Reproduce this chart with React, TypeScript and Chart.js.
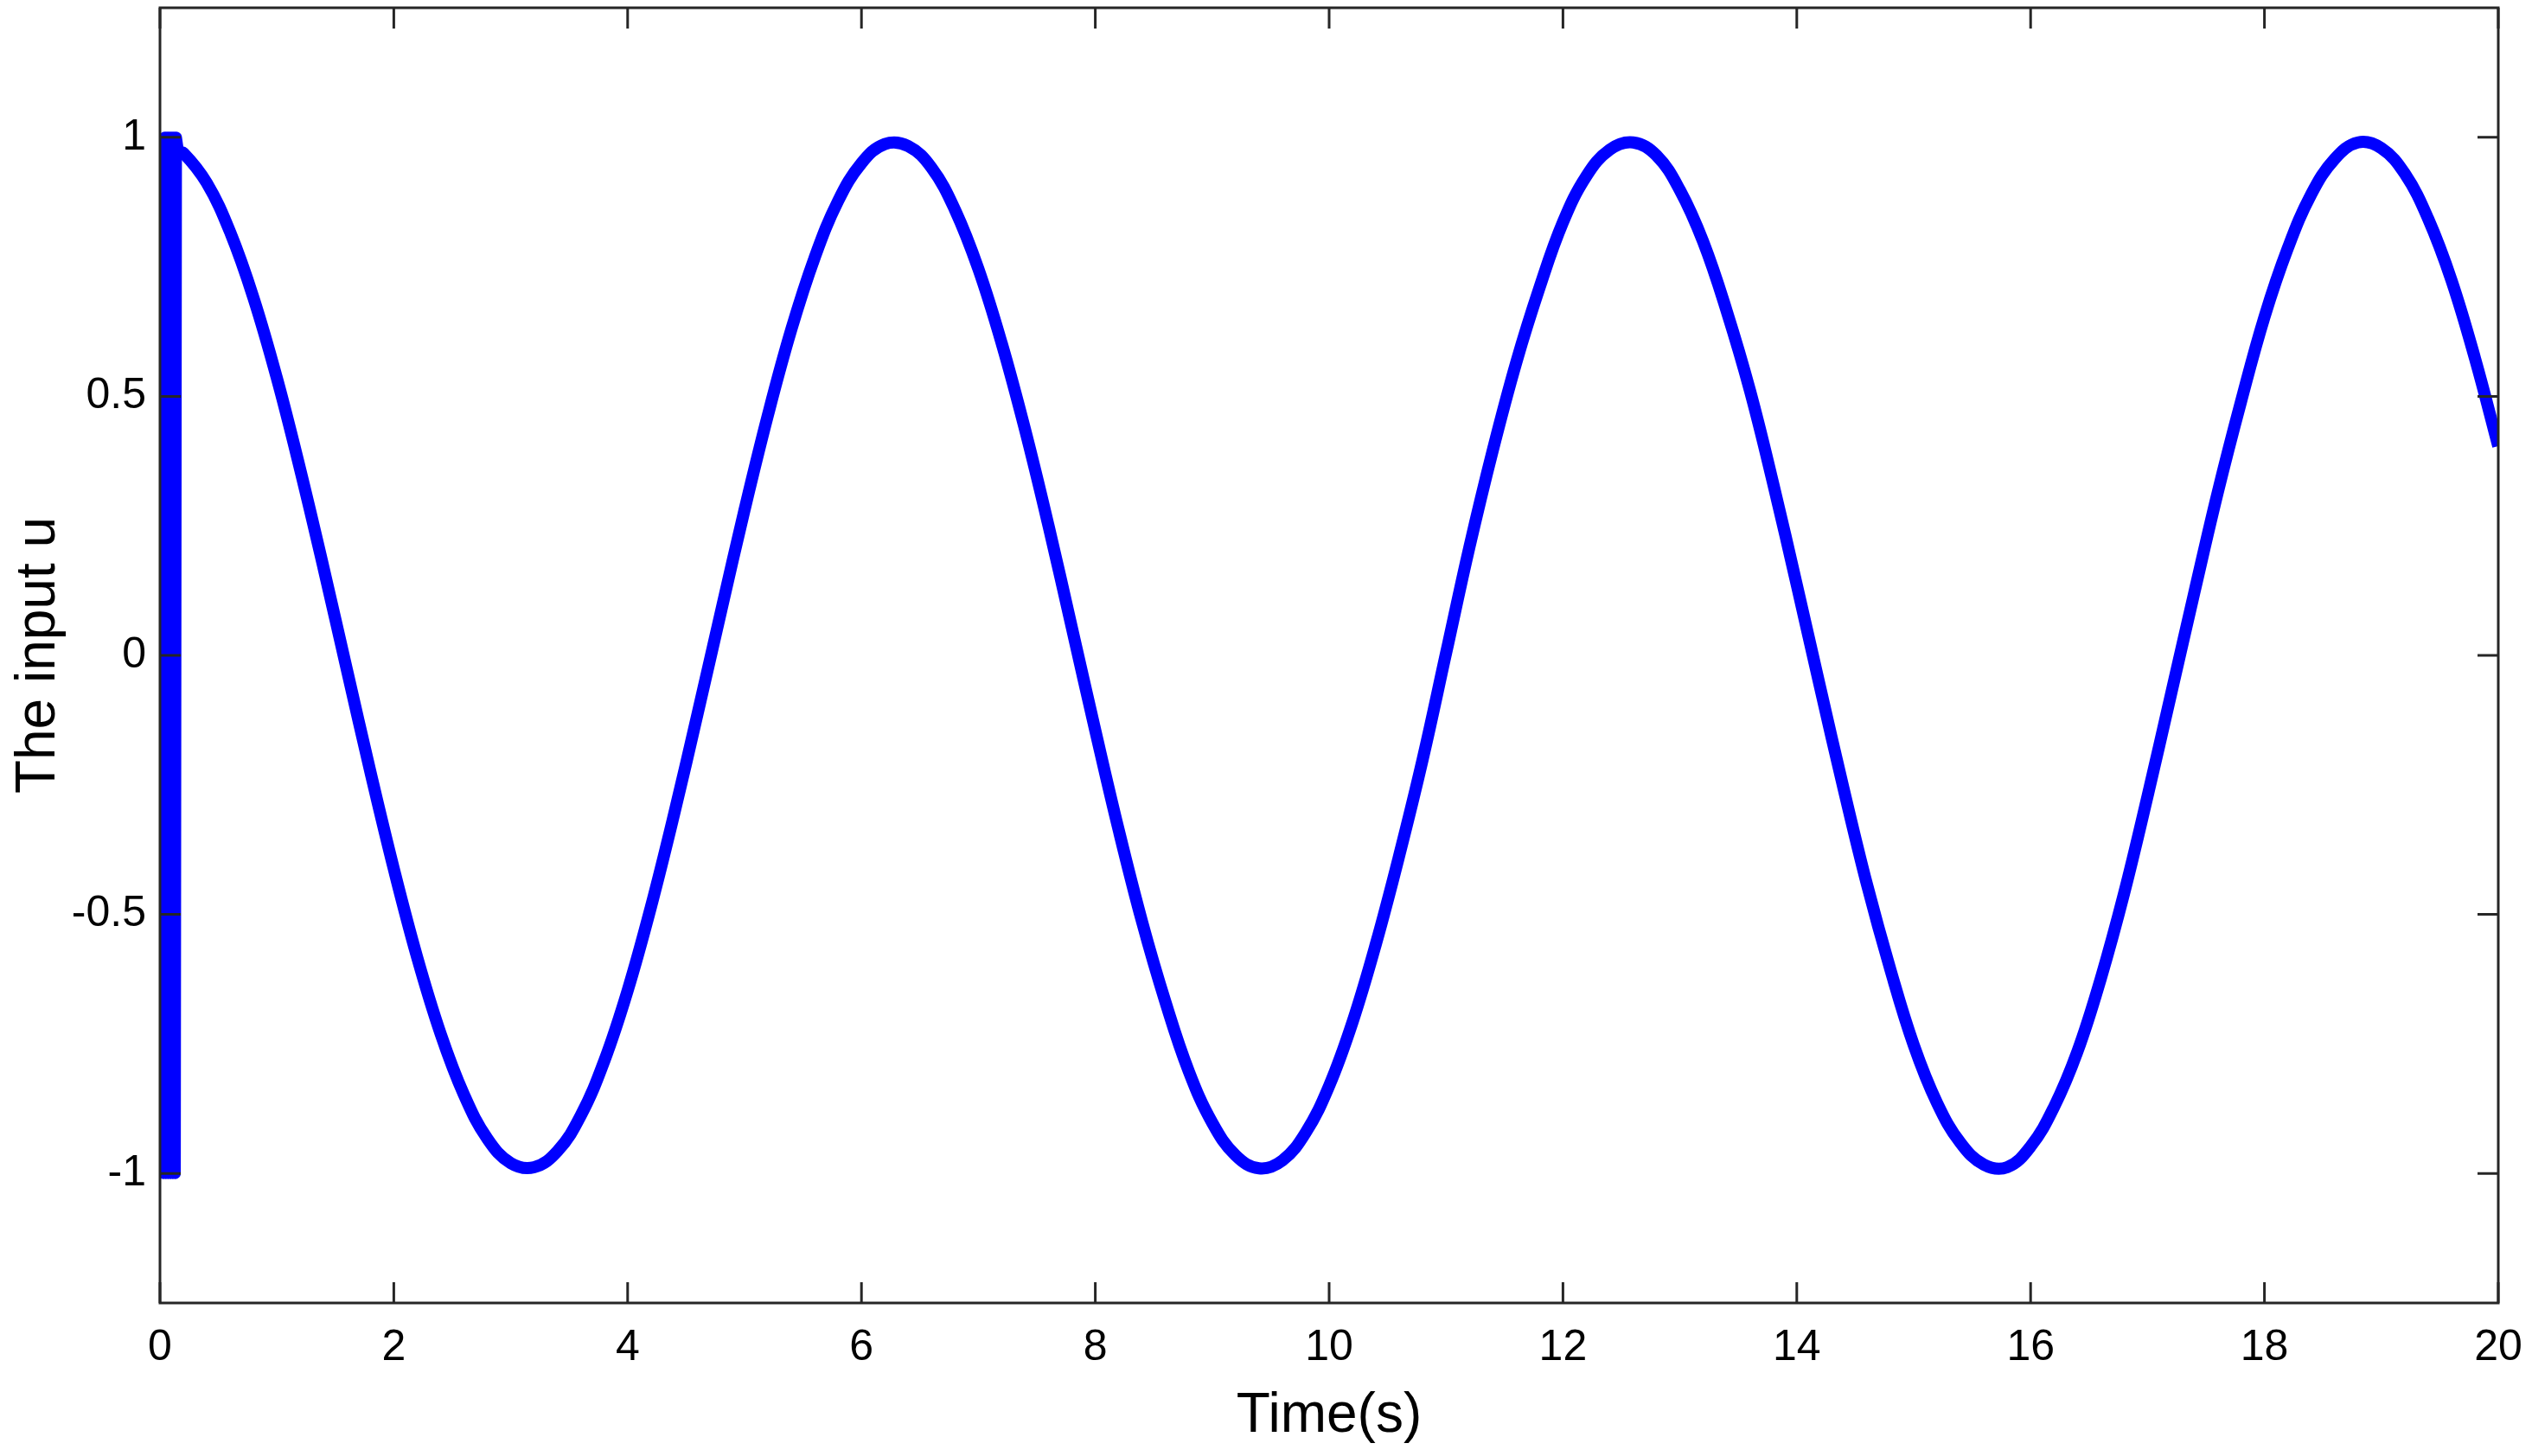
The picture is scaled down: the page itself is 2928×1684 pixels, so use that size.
import { useEffect, useRef } from "react";
import { Chart, registerables } from "chart.js";

Chart.register(...registerables);

// Initial chattering (switching between +1 and -1 right after t = 0)
const chatterTimes = [0.02, 0.03, 0.04, 0.05, 0.06, 0.07, 0.08, 0.09, 0.1, 0.11, 0.12, 0.13, 0.14, 0.16];
const chatterValues = [1, -1, 1, -1, 1, -1, 1, -1, 1, -1, 1, -1, 1, 0.968];

// Smooth part of the input u
const times = [
  0.16, 0.2, 0.4, 0.6, 0.8, 1.0, 1.2, 1.4, 1.6, 1.8, 2.0, 2.2, 2.4, 2.6, 2.8, 3.0, 3.2, 3.4, 3.6, 3.8,
  4.0, 4.2, 4.4, 4.6, 4.8, 5.0, 5.2, 5.4, 5.6, 5.8, 6.0, 6.2, 6.4, 6.6, 6.8, 7.0, 7.2, 7.4, 7.6, 7.8,
  8.0, 8.2, 8.4, 8.6, 8.8, 9.0, 9.2, 9.4, 9.6, 9.8, 10.0, 10.2, 10.4, 10.6, 10.8, 11.0, 11.2, 11.4, 11.6, 11.8,
  12.0, 12.2, 12.4, 12.6, 12.8, 13.0, 13.2, 13.4, 13.6, 13.8, 14.0, 14.2, 14.4, 14.6, 14.8, 15.0, 15.2, 15.4, 15.6, 15.8,
  16.0, 16.2, 16.4, 16.6, 16.8, 17.0, 17.2, 17.4, 17.6, 17.8, 18.0, 18.2, 18.4, 18.6, 18.8, 19.0, 19.2, 19.4, 19.6, 19.8, 20.0,
];
const uValues = [
  0.968, 0.97, 0.912, 0.817, 0.69, 0.535, 0.358, 0.168, -0.029, -0.225, -0.412, -0.583, -0.73, -0.848, -0.933, -0.98, -0.988, -0.957, -0.888, -0.783,
  -0.647, -0.485, -0.304, -0.111, 0.086, 0.281, 0.464, 0.629, 0.768, 0.877, 0.95, 0.987, 0.983, 0.941, 0.86, 0.746, 0.602, 0.435, 0.25, 0.053,
  -0.145, -0.337, -0.514, -0.669, -0.803, -0.902, -0.965, -0.99, -0.975, -0.921, -0.831, -0.708, -0.557, -0.386, -0.201, 0.004, 0.209, 0.396, 0.565, 0.71,
  0.836, 0.925, 0.976, 0.99, 0.965, 0.898, 0.798, 0.665, 0.511, 0.33, 0.136, -0.062, -0.257, -0.442, -0.606, -0.752, -0.864, -0.941, -0.983, -0.988,
  -0.948, -0.872, -0.765, -0.624, -0.459, -0.272, -0.076, 0.121, 0.314, 0.49, 0.653, 0.786, 0.89, 0.958, 0.99, 0.979, 0.93, 0.843, 0.724, 0.574, 0.404,
];

const xTicks = [0, 2, 4, 6, 8, 10, 12, 14, 16, 18, 20];
const yTicks = [-1, -0.5, 0, 0.5, 1];

const FONT = "'Liberation Sans', Arial, Helvetica, sans-serif";
const AXIS_COLOR = "#262626";
const LINE_COLOR = "#0000ff";

const framePlugin = {
  id: "matlabFrame",
  afterDatasetsDraw(chart: any) {
    const { ctx, chartArea, scales } = chart;
    const { left, right, top, bottom } = chartArea;
    const x = scales.x;
    const y = scales.y;
    const tl = 24;
    ctx.save();
    ctx.strokeStyle = AXIS_COLOR;
    ctx.lineWidth = 3;
    ctx.lineCap = "butt";
    ctx.strokeRect(left, top, right - left, bottom - top);
    ctx.beginPath();
    for (const v of xTicks) {
      const px = x.getPixelForValue(v);
      ctx.moveTo(px, bottom);
      ctx.lineTo(px, bottom - tl);
      ctx.moveTo(px, top);
      ctx.lineTo(px, top + tl);
    }
    for (const v of yTicks) {
      const py = y.getPixelForValue(v);
      ctx.moveTo(left, py);
      ctx.lineTo(left + tl, py);
      ctx.moveTo(right, py);
      ctx.lineTo(right - tl, py);
    }
    ctx.stroke();
    ctx.restore();
  },
};

export default function App() {
  const canvasRef = useRef<HTMLCanvasElement | null>(null);

  useEffect(() => {
    const canvas = canvasRef.current;
    if (!canvas) return;

    const chatterPoints = chatterTimes.map((t, i) => ({ x: t, y: chatterValues[i] }));
    const mainPoints = times.map((t, i) => ({ x: t, y: uValues[i] }));

    const chart = new Chart(canvas, {
      type: "line",
      data: {
        datasets: [
          {
            data: chatterPoints,
            borderColor: LINE_COLOR,
            backgroundColor: LINE_COLOR,
            borderWidth: 13,
            pointRadius: 0,
            tension: 0,
            fill: false,
            borderJoinStyle: "round",
            borderCapStyle: "butt",
          },
          {
            data: mainPoints,
            borderColor: LINE_COLOR,
            backgroundColor: LINE_COLOR,
            borderWidth: 14,
            pointRadius: 0,
            tension: 0.4,
            fill: false,
            borderJoinStyle: "round",
            borderCapStyle: "butt",
          },
        ],
      },
      options: {
        animation: false,
        responsive: false,
        maintainAspectRatio: false,
        devicePixelRatio: 1,
        layout: { padding: { top: 9, right: 39, left: 0, bottom: 0 } },
        plugins: {
          legend: { display: false },
          tooltip: { enabled: false },
          title: { display: false },
        },
        scales: {
          x: {
            type: "linear",
            min: 0,
            max: 20,
            grid: { display: false, drawTicks: false },
            border: { display: false },
            afterBuildTicks: (s: any) => {
              s.ticks = xTicks.map((v) => ({ value: v }));
            },
            afterFit: (s: any) => {
              s.height = 177;
              s.paddingLeft = 0;
              s.paddingRight = 0;
              s.paddingTop = 0;
              s.paddingBottom = 0;
            },
            ticks: {
              color: "#000",
              font: { family: FONT, size: 50 },
              padding: 22,
              maxRotation: 0,
              autoSkip: false,
              callback: (v: any) => String(v),
            },
            title: {
              display: true,
              text: "Time(s)",
              color: "#000",
              font: { family: FONT, size: 64 },
              padding: { top: 0, bottom: 7 },
            },
          },
          y: {
            type: "linear",
            min: -1.25,
            max: 1.25,
            grid: { display: false, drawTicks: false },
            border: { display: false },
            afterBuildTicks: (s: any) => {
              s.ticks = yTicks.map((v) => ({ value: v }));
            },
            afterFit: (s: any) => {
              s.width = 185;
              s.paddingLeft = 0;
              s.paddingRight = 0;
              s.paddingTop = 0;
              s.paddingBottom = 0;
            },
            ticks: {
              color: "#000",
              font: { family: FONT, size: 50 },
              padding: 16,
              autoSkip: false,
              callback: (v: any) => String(v),
            },
            title: {
              display: true,
              text: "The input u",
              color: "#000",
              font: { family: FONT, size: 64 },
              padding: { top: 7, bottom: 0 },
            },
          },
        },
      },
      plugins: [framePlugin],
    });

    return () => chart.destroy();
  }, []);

  return (
    <div style={{ position: "fixed", left: 0, top: 0, width: 2928, height: 1684, background: "#fff" }}>
      <canvas ref={canvasRef} width={2928} height={1684} style={{ width: 2928, height: 1684, display: "block" }} />
    </div>
  );
}
